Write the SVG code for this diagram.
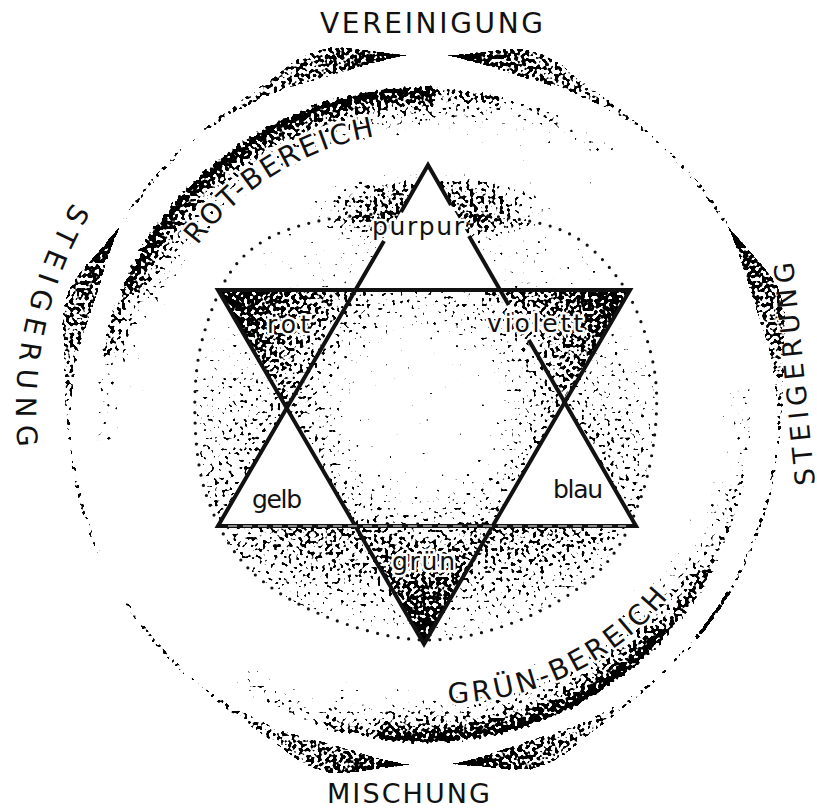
<svg xmlns="http://www.w3.org/2000/svg" width="817" height="809" viewBox="0 0 817 809">
<defs>
<style>
.cap{font-family:"DejaVu Sans","Liberation Sans",sans-serif;font-size:28px;fill:#111;}
.lab{font-family:"DejaVu Sans","Liberation Sans",sans-serif;font-size:25px;fill:#111;}
.halo{stroke:#fff;stroke-width:5px;stroke-linejoin:round;paint-order:stroke;}
.edge{fill:none;stroke:#111;stroke-width:4;stroke-linejoin:miter;stroke-linecap:butt;}
.band{fill:none;stroke:url(#bandGrad);stroke-width:70;}
.tail{fill:none;stroke:#000;stroke-opacity:0.42;stroke-width:4;}
</style>
<filter id="stip" filterUnits="userSpaceOnUse" x="0" y="0" width="817" height="809" color-interpolation-filters="sRGB">
<feTurbulence type="fractalNoise" baseFrequency="0.27" numOctaves="1" seed="11" result="t"/>
<feColorMatrix in="t" type="matrix" values="0 0 0 0 0  0 0 0 0 0  0 0 0 0 0  0 0 0 1.4 -0.2" result="n"/>
<feComposite in="SourceAlpha" in2="n" operator="arithmetic" k1="0" k2="14" k3="-14" k4="0"/>
</filter>
<linearGradient id="discV" gradientUnits="userSpaceOnUse" x1="0" y1="170" x2="0" y2="645">
<stop offset="0" stop-color="#000" stop-opacity="0.26"/>
<stop offset="0.253" stop-color="#000" stop-opacity="0.2"/>
<stop offset="0.526" stop-color="#000" stop-opacity="0.34"/>
<stop offset="0.749" stop-color="#000" stop-opacity="0.48"/>
<stop offset="0.821" stop-color="#000" stop-opacity="0.42"/>
<stop offset="1" stop-color="#000" stop-opacity="0.22"/>
</linearGradient>
<radialGradient id="discMaskGrad" gradientUnits="userSpaceOnUse" cx="424" cy="420" r="240">
<stop offset="0" stop-color="#fff"/>
<stop offset="0.72" stop-color="#fff"/>
<stop offset="0.9" stop-color="#fff" stop-opacity="0.85"/>
<stop offset="1" stop-color="#fff" stop-opacity="0.65"/>
</radialGradient>
<mask id="discMask" maskUnits="userSpaceOnUse" x="0" y="0" width="817" height="809">
<rect width="817" height="809" fill="url(#discMaskGrad)"/>
</mask>
<radialGradient id="capGrad">
<stop offset="0" stop-color="#000" stop-opacity="0.55"/>
<stop offset="0.55" stop-color="#000" stop-opacity="0.44"/>
<stop offset="1" stop-color="#000" stop-opacity="0"/>
</radialGradient>
<radialGradient id="triGrad" gradientUnits="userSpaceOnUse" cx="424" cy="408" r="240">
<stop offset="0" stop-color="#000" stop-opacity="0.12"/>
<stop offset="0.3" stop-color="#000" stop-opacity="0.17"/>
<stop offset="0.48" stop-color="#000" stop-opacity="0.34"/>
<stop offset="0.58" stop-color="#000" stop-opacity="0.46"/>
<stop offset="0.8" stop-color="#000" stop-opacity="0.6"/>
<stop offset="1" stop-color="#000" stop-opacity="0.72"/>
</radialGradient>
<radialGradient id="bandGrad" gradientUnits="userSpaceOnUse" cx="424" cy="415" r="332">
<stop offset="0" stop-color="#000" stop-opacity="0"/>
<stop offset="0.79" stop-color="#000" stop-opacity="0"/>
<stop offset="0.84" stop-color="#000" stop-opacity="0.16"/>
<stop offset="0.9" stop-color="#000" stop-opacity="0.34"/>
<stop offset="0.95" stop-color="#000" stop-opacity="0.56"/>
<stop offset="0.98" stop-color="#000" stop-opacity="0.76"/>
<stop offset="1" stop-color="#000" stop-opacity="0"/>
</radialGradient>
<linearGradient id="arrowGrad" gradientUnits="userSpaceOnUse" x1="0" y1="-358" x2="-229" y2="-272">
<stop offset="0" stop-color="#000" stop-opacity="1"/>
<stop offset="0.05" stop-color="#000" stop-opacity="0.85"/>
<stop offset="0.15" stop-color="#000" stop-opacity="0.62"/>
<stop offset="0.35" stop-color="#000" stop-opacity="0.52"/>
<stop offset="0.7" stop-color="#000" stop-opacity="0.44"/>
<stop offset="1" stop-color="#000" stop-opacity="0.38"/>
</linearGradient>
<g id="arrow">
<path d="M0,-355 L-12.48,-357.28 L-31.55,-360.62 L-57.88,-365.44 L-77.97,-366.81 L-97.06,-362.22 L-114.95,-353.79 L-131.16,-341.69 L-152.99,-328.08 L-179.5,-310.9 L-205.05,-292.85 L-228.83,-272.71 L-227.87,-271.56 L-203.05,-289.98 L-176.5,-305.71 L-148.34,-318.11 L-125.43,-326.75 L-107.54,-330.97 L-89.81,-335.18 L-72.15,-339.42 L-54.44,-343.72 L-30.59,-349.66 L-12.34,-353.28 Z" fill="url(#arrowGrad)"/>
<path class="tail" d="M-228.3,-272.1 A355,355 0 0 0 -290.8,-203.6"/>
</g>
<path id="ring" d="M425,213 C465.5,213.7 521,216.3 553,227 C585,237.7 600.8,256.5 617,277 C633.2,297.5 643.5,326.2 650,350 C656.5,373.8 657.7,395 656,420 C654.3,445 649.3,475 640,500 C630.7,525 620,550 600,570 C580,590 549.2,608.3 520,620 C490.8,631.7 457.2,640.5 425,640 C392.8,639.5 356.2,628.7 327,617 C297.8,605.3 269.8,589.5 250,570 C230.2,550.5 217.2,525 208,500 C198.8,475 195.8,447.2 195,420 C194.2,392.8 195.5,363.7 203,337 C210.5,310.3 222.2,279 240,260 C257.8,241 279.2,230.8 310,223 C340.8,215.2 384.5,212.3 425,213 Z"/>
<path id="pRot" d="M195.1,248.7 A283,283 0 0 1 399.3,133.1"/>
<path id="pGruen" d="M434.9,702.8 A289,289 0 0 0 681.7,579.8"/>
<path id="pSteigL" d="M78.0,193.8 A408,408 0 0 0 22.2,480.8"/>
</defs>

<rect width="817" height="809" fill="#fff"/>

<g id="stipple" filter="url(#stip)">
<path d="M425,213 C465.5,213.7 521,216.3 553,227 C585,237.7 600.8,256.5 617,277 C633.2,297.5 643.5,326.2 650,350 C656.5,373.8 657.7,395 656,420 C654.3,445 649.3,475 640,500 C630.7,525 620,550 600,570 C580,590 549.2,608.3 520,620 C490.8,631.7 457.2,640.5 425,640 C392.8,639.5 356.2,628.7 327,617 C297.8,605.3 269.8,589.5 250,570 C230.2,550.5 217.2,525 208,500 C198.8,475 195.8,447.2 195,420 C194.2,392.8 195.5,363.7 203,337 C210.5,310.3 222.2,279 240,260 C257.8,241 279.2,230.8 310,223 C340.8,215.2 384.5,212.3 425,213 Z M218,290 L630,290 L424,644 Z" fill="url(#discV)" fill-rule="evenodd" mask="url(#discMask)"/>
<ellipse cx="430" cy="205" rx="145" ry="40" fill="url(#capGrad)"/>
<polygon points="218,290 630,290 424,644" fill="url(#triGrad)"/>
<g id="rot-band">
<path class="band" stroke-opacity="0.4" d="M130.1,440.7 A295,295 0 0 1 133.5,363.8"/>
<path class="band" stroke-opacity="0.7" d="M133.5,363.8 A295,295 0 0 1 152.5,299.7"/>
<path class="band" d="M152.5,299.7 A295,295 0 0 1 434.3,120.2"/>
<path class="band" stroke-opacity="0.7" d="M434.3,120.2 A295,295 0 0 1 495.4,128.8"/>
<path class="band" stroke-opacity="0.5" d="M495.4,128.8 A295,295 0 0 1 553.3,149.9"/>
<path class="band" stroke-opacity="0.35" d="M553.3,149.9 A295,295 0 0 1 597.4,176.3"/>
</g>
<g id="gruen-band">
<path class="band" stroke-opacity="0.4" d="M717.9,389.3 A295,295 0 0 1 712.6,476.3"/>
<path class="band" stroke-opacity="0.55" d="M712.6,476.3 A295,295 0 0 1 684.5,553.5"/>
<path class="band" stroke-opacity="0.8" d="M684.5,553.5 A295,295 0 0 1 643.2,612.4"/>
<path class="band" d="M643.2,612.4 A295,295 0 0 1 382.9,707.1"/>
<path class="band" stroke-opacity="0.7" d="M382.9,707.1 A295,295 0 0 1 332.8,695.6"/>
<path class="band" stroke-opacity="0.45" d="M332.8,695.6 A295,295 0 0 1 254.8,656.6"/>
</g>
<g id="arrows">
<use href="#arrow" transform="translate(424,410) rotate(-2.7)"/>
<use href="#arrow" transform="translate(424,410) rotate(3.7) scale(-1,1)"/>
<use href="#arrow" transform="translate(424,410) rotate(58.7) scale(-1,1)"/>
<use href="#arrow" transform="translate(424,410) rotate(175.5)"/>
<use href="#arrow" transform="translate(424,410) rotate(-177.7) scale(-1,1)"/>
<use href="#arrow" transform="translate(424,410) rotate(-58.8)"/>
<path class="tail" d="M749.1,552.7 A355,355 0 0 1 695.9,638.2"/>
</g>
</g>

<g id="dotted-circle">
<use href="#ring" fill="none" stroke="#111" stroke-width="3.2" stroke-linecap="round" stroke-dasharray="0 10.5"/>
</g>

<g id="white-corners" fill="#fff">
<polygon id="corner-purpur" points="428,165 355.3,290 500,290"/>
<polygon id="corner-gelb" points="218,526 286.7,408 355.3,526"/>
<polygon id="corner-blau" points="636,526 564.7,402.2 492.7,526"/>
</g>

<g id="star">
<path class="edge" d="M401,212 L428,165 L451,205"/>
<path class="edge" d="M384,241 L218,526 L636,526 L528.8,340"/>
<path class="edge" d="M469,236 L508.7,305"/>
<path class="edge" d="M218,290 L630,290 L424,644 Z"/>
<line x1="228" y1="526" x2="626" y2="526" stroke="#fff" stroke-width="1.2" stroke-dasharray="9 6"/>
</g>

<g id="outer-labels">
<text class="cap" x="320" y="33" textLength="223" lengthAdjust="spacing">VEREINIGUNG</text>
<text class="cap" x="327" y="803" style="font-size:27px" textLength="163" lengthAdjust="spacing">MISCHUNG</text>
<text class="cap"><textPath href="#pSteigL" startOffset="10" textLength="255" lengthAdjust="spacing">STEIGERUNG</textPath></text>
<text class="cap" style="font-size:27px" text-anchor="middle" transform="translate(804,373) rotate(-95.6)" textLength="224" lengthAdjust="spacing">STEIGERUNG</text>
<text class="cap halo"><textPath href="#pRot" startOffset="4" textLength="213" lengthAdjust="spacing">ROT-BEREICH</textPath></text>
<text class="cap halo"><textPath href="#pGruen" startOffset="13" textLength="252" lengthAdjust="spacing">GRÜN-BEREICH</textPath></text>
</g>

<g id="inner-labels">
<text class="lab halo" x="372" y="235" textLength="92" lengthAdjust="spacing">purpur</text>
<text class="lab halo" x="267" y="333" textLength="43" lengthAdjust="spacing">rot</text>
<text class="lab halo" x="487" y="332" textLength="96" lengthAdjust="spacing">violett</text>
<text class="lab" x="252" y="508" textLength="50" lengthAdjust="spacing">gelb</text>
<text class="lab" x="553" y="498" textLength="50" lengthAdjust="spacing">blau</text>
<text class="lab halo" x="392" y="570" textLength="63" lengthAdjust="spacing">grün</text>
</g>
</svg>
